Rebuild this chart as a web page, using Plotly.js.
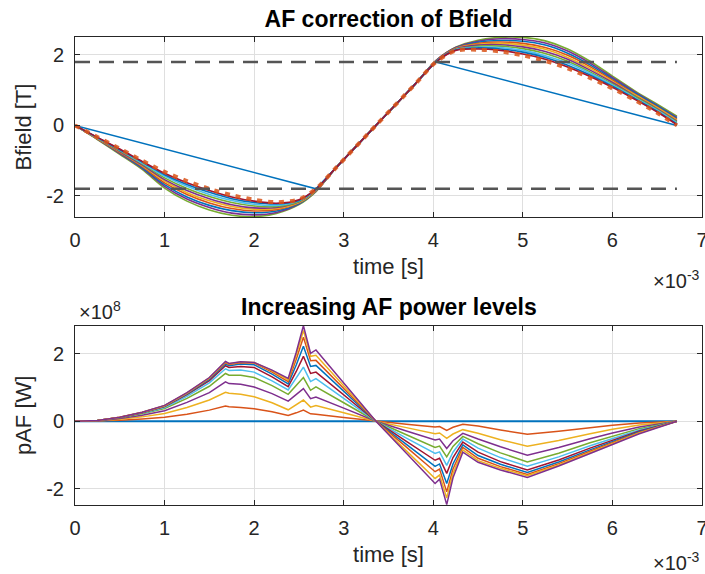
<!DOCTYPE html>
<html>
<head>
<meta charset="utf-8">
<script src="https://cdn.plot.ly/plotly-3.0.1.min.js"></script>
<style>
html, body { margin: 0; padding: 0; background: #ffffff; }
#chart { width: 705px; height: 574px; }
</style>
</head>
<body>
<div id="chart"></div>
<script>
// ===== DATA =====
// time values are in units of 1e-3 s (axis shows "x10^-3")
const xTickVals = [0, 1, 2, 3, 4, 5, 6, 7];
const xTickText = ['0', '1', '2', '3', '4', '5', '6', '7'];
const yTickValsB = [-2, 0, 2];
const yTickTextB = ['-2', '0', '2'];
const yTickValsP = [-2, 0, 2];
const yTickTextP = ['-2', '0', '2'];

// ---- top panel: Bfield [T] ----
const tTarget = [0, 2.69, 4.03, 6.72];
const bTarget = [0, -1.8, 1.8, 0];
const tLimit = [0, 6.72];
const bLimitHigh = [1.8, 1.8];
const bLimitLow = [-1.8, -1.8];

const tB = [0, 0.25, 0.5, 0.75, 1.0, 1.25, 1.5, 1.75, 2.0, 2.25, 2.5, 2.69, 2.9, 3.36, 3.8, 4.03, 4.25, 4.5, 4.75, 5.0, 5.25, 5.5, 5.75, 6.0, 6.25, 6.5, 6.72];
const bLevel0  = [0, -0.33, -0.66, -1.00, -1.32, -1.58, -1.80, -1.98, -2.11, -2.18, -2.10, -1.80, -1.24, 0, 1.18, 1.80, 2.12, 2.15, 2.10, 1.99, 1.83, 1.62, 1.35, 1.05, 0.72, 0.36, 0.00];
const bLevel1  = [0, -0.34, -0.67, -1.02, -1.36, -1.63, -1.85, -2.03, -2.15, -2.21, -2.11, -1.81, -1.24, 0, 1.18, 1.80, 2.13, 2.17, 2.13, 2.03, 1.88, 1.66, 1.39, 1.08, 0.74, 0.38, 0.02];
const bLevel2  = [0, -0.34, -0.69, -1.04, -1.40, -1.68, -1.90, -2.08, -2.19, -2.23, -2.13, -1.81, -1.24, 0, 1.18, 1.81, 2.14, 2.20, 2.17, 2.08, 1.93, 1.71, 1.43, 1.11, 0.76, 0.40, 0.04];
const bLevel3  = [0, -0.35, -0.70, -1.07, -1.44, -1.73, -1.96, -2.13, -2.24, -2.27, -2.14, -1.82, -1.24, 0, 1.18, 1.81, 2.15, 2.22, 2.21, 2.13, 1.98, 1.77, 1.48, 1.15, 0.79, 0.43, 0.07];
const bLevel4  = [0, -0.36, -0.72, -1.09, -1.49, -1.79, -2.02, -2.19, -2.29, -2.30, -2.16, -1.83, -1.24, 0, 1.18, 1.81, 2.16, 2.25, 2.25, 2.18, 2.04, 1.82, 1.52, 1.18, 0.82, 0.45, 0.10];
const bLevel5  = [0, -0.36, -0.74, -1.12, -1.54, -1.85, -2.08, -2.25, -2.34, -2.33, -2.17, -1.84, -1.24, 0, 1.18, 1.82, 2.17, 2.28, 2.29, 2.23, 2.10, 1.88, 1.57, 1.22, 0.84, 0.47, 0.12];
const bLevel6  = [0, -0.37, -0.75, -1.14, -1.58, -1.91, -2.14, -2.30, -2.38, -2.36, -2.19, -1.85, -1.24, 0, 1.18, 1.82, 2.18, 2.30, 2.33, 2.28, 2.16, 1.93, 1.62, 1.25, 0.87, 0.50, 0.15];
const bLevel7  = [0, -0.38, -0.77, -1.17, -1.63, -1.96, -2.20, -2.36, -2.43, -2.39, -2.20, -1.85, -1.24, 0, 1.18, 1.83, 2.19, 2.33, 2.37, 2.33, 2.21, 1.99, 1.67, 1.29, 0.89, 0.52, 0.17];
const bLevel8  = [0, -0.38, -0.78, -1.20, -1.68, -2.03, -2.27, -2.42, -2.48, -2.43, -2.22, -1.86, -1.24, 0, 1.18, 1.83, 2.20, 2.36, 2.41, 2.39, 2.28, 2.05, 1.72, 1.32, 0.92, 0.55, 0.20];
const bLevel9  = [0, -0.39, -0.80, -1.22, -1.73, -2.09, -2.33, -2.49, -2.54, -2.47, -2.23, -1.87, -1.24, 0, 1.18, 1.84, 2.21, 2.39, 2.46, 2.44, 2.34, 2.11, 1.77, 1.36, 0.95, 0.57, 0.23];
const bLevel10 = [0, -0.40, -0.82, -1.25, -1.78, -2.15, -2.40, -2.55, -2.59, -2.50, -2.25, -1.88, -1.24, 0, 1.18, 1.84, 2.22, 2.42, 2.50, 2.50, 2.40, 2.17, 1.82, 1.40, 0.98, 0.60, 0.26];

// ---- bottom panel: pAF [W] in units of 1e8 W ----
const tZero = [0, 6.72];
const pZero = [0, 0];
const tP = [0, 0.25, 0.5, 0.75, 1.0, 1.25, 1.5, 1.68, 1.72, 1.85, 2.0, 2.2, 2.38, 2.47, 2.55, 2.63, 2.69, 3.0, 3.36, 3.7, 4.02, 4.07, 4.15, 4.22, 4.33, 4.5, 4.75, 5.05, 5.4, 5.75, 6.0, 6.3, 6.72];
const pLevel1  = [0, 0.005, 0.03, 0.07, 0.12, 0.21, 0.33, 0.45, 0.43, 0.41, 0.37, 0.28, 0.17, 0.25, 0.33, 0.22, 0.21, 0.11, 0, -0.09, -0.17, -0.16, -0.27, -0.18, -0.09, -0.14, -0.26, -0.39, -0.30, -0.19, -0.12, -0.05, 0];
const pLevel2  = [0, 0.01, 0.06, 0.13, 0.23, 0.41, 0.63, 0.86, 0.83, 0.80, 0.73, 0.55, 0.34, 0.48, 0.63, 0.42, 0.47, 0.25, 0, -0.19, -0.37, -0.35, -0.51, -0.38, -0.25, -0.36, -0.55, -0.74, -0.57, -0.37, -0.24, -0.11, 0];
const pLevel3  = [0, 0.01, 0.08, 0.18, 0.31, 0.56, 0.85, 1.17, 1.12, 1.10, 1.02, 0.82, 0.60, 0.80, 0.97, 0.67, 0.72, 0.39, 0, -0.29, -0.56, -0.53, -0.81, -0.58, -0.36, -0.53, -0.76, -1.01, -0.78, -0.52, -0.35, -0.17, 0];
const pLevel4  = [0, 0.02, 0.10, 0.22, 0.38, 0.68, 1.04, 1.42, 1.37, 1.37, 1.30, 1.06, 0.80, 1.05, 1.30, 0.92, 1.02, 0.55, 0, -0.40, -0.78, -0.74, -1.06, -0.75, -0.45, -0.67, -0.94, -1.21, -0.95, -0.64, -0.44, -0.22, 0];
const pLevel5  = [0, 0.02, 0.11, 0.24, 0.41, 0.74, 1.14, 1.56, 1.51, 1.52, 1.46, 1.20, 0.93, 1.27, 1.61, 1.18, 1.27, 0.68, 0, -0.50, -0.96, -0.91, -1.31, -0.92, -0.53, -0.80, -1.08, -1.34, -1.06, -0.73, -0.51, -0.26, 0];
const pLevel6  = [0, 0.02, 0.11, 0.25, 0.44, 0.79, 1.21, 1.65, 1.60, 1.63, 1.60, 1.32, 1.03, 1.48, 1.93, 1.42, 1.46, 0.78, 0, -0.60, -1.16, -1.10, -1.55, -1.08, -0.62, -0.92, -1.20, -1.45, -1.15, -0.80, -0.56, -0.29, 0];
const pLevel7  = [0, 0.02, 0.11, 0.26, 0.45, 0.81, 1.24, 1.70, 1.65, 1.70, 1.68, 1.40, 1.11, 1.67, 2.23, 1.63, 1.66, 0.89, 0, -0.69, -1.34, -1.27, -1.85, -1.27, -0.70, -1.02, -1.28, -1.52, -1.21, -0.85, -0.60, -0.31, 0];
const pLevel8  = [0, 0.02, 0.12, 0.26, 0.46, 0.83, 1.27, 1.74, 1.69, 1.74, 1.73, 1.46, 1.18, 1.84, 2.50, 1.80, 1.81, 0.97, 0, -0.77, -1.50, -1.42, -2.10, -1.42, -0.78, -1.10, -1.35, -1.58, -1.26, -0.89, -0.63, -0.33, 0];
const pLevel9  = [0, 0.02, 0.12, 0.27, 0.46, 0.84, 1.29, 1.76, 1.71, 1.76, 1.75, 1.50, 1.23, 1.96, 2.70, 1.93, 1.96, 1.05, 0, -0.88, -1.70, -1.60, -2.28, -1.55, -0.85, -1.17, -1.40, -1.62, -1.30, -0.93, -0.66, -0.35, 0];
const pLevel10 = [0, 0.02, 0.12, 0.27, 0.47, 0.85, 1.30, 1.78, 1.72, 1.77, 1.75, 1.52, 1.27, 2.05, 2.84, 2.02, 2.12, 1.13, 0, -0.95, -1.85, -1.72, -2.48, -1.68, -0.92, -1.22, -1.45, -1.67, -1.33, -0.96, -0.69, -0.37, 0];

// ===== STYLE =====
const C = {blue:'#0072BD', orange:'#D95319', yellow:'#EDB120', purple:'#7E2F8E', green:'#77AC30', cyan:'#4DBEEE', red:'#A2142F'};
const FONT = 'Liberation Sans, Arial, Helvetica, sans-serif';
const INK = '#262626';

const bFamily = [bLevel0, bLevel1, bLevel2, bLevel3, bLevel4, bLevel5, bLevel6, bLevel7, bLevel8, bLevel9, bLevel10];
const bColors = [C.orange, C.red, C.blue, C.cyan, C.green, C.purple, C.yellow, C.orange, C.blue, C.purple, C.green];
const pFamily = [pLevel1, pLevel2, pLevel3, pLevel4, pLevel5, pLevel6, pLevel7, pLevel8, pLevel9, pLevel10];
const pColors = [C.orange, C.yellow, C.purple, C.green, C.cyan, C.red, C.blue, C.orange, C.yellow, C.purple];

const traces = [];
// top: target line
traces.push({x: tTarget, y: bTarget, xaxis:'x', yaxis:'y', mode:'lines', line:{color:C.blue, width:1.5}});
// top: family, outermost drawn first
for (let i = bFamily.length - 1; i >= 0; i--) {
  const dotted = (i === 0);
  traces.push({
    x: tB, y: bFamily[i], xaxis:'x', yaxis:'y', mode:'lines',
    line: dotted ? {color:'rgba(217,83,25,0.85)', width:4, dash:'5px,6px', shape:'spline', smoothing:0.8}
                 : {color:bColors[i], width:1.6, shape:'spline', smoothing:0.8}
  });
}
// top: limits
traces.push({x: tLimit, y: bLimitHigh, xaxis:'x', yaxis:'y', mode:'lines', line:{color:'#555555', width:2.5, dash:'15px,9px'}});
traces.push({x: tLimit, y: bLimitLow, xaxis:'x', yaxis:'y', mode:'lines', line:{color:'#555555', width:2.5, dash:'15px,9px'}});

// bottom
traces.push({x: tZero, y: pZero, xaxis:'x2', yaxis:'y2', mode:'lines', line:{color:C.blue, width:2.2}});
for (let i = 0; i < pFamily.length; i++) {
  traces.push({x: tP, y: pFamily[i], xaxis:'x2', yaxis:'y2', mode:'lines', line:{color:pColors[i], width:1.5}});
}

function xAxis(anchor) {
  return {
    anchor: anchor, domain: [0, 1], range: [0, 7],
    tickmode: 'array', tickvals: xTickVals, ticktext: xTickText,
    ticks: 'inside', ticklen: 5, tickcolor: INK, tickwidth: 1,
    showline: true, linecolor: INK, linewidth: 1, mirror: 'ticks',
    showgrid: true, gridcolor: '#dfdfdf', gridwidth: 1, zeroline: false,
    tickfont: {family: FONT, size: 20, color: INK},
    ticklabelstandoff: 5, ticklabeloverflow: 'allow',
    title: {text: 'time [s]', font: {family: FONT, size: 22, color: INK}, standoff: 8}
  };
}
function yAxis(anchor, domain, range, vals, text, label) {
  return {
    anchor: anchor, domain: domain, range: range,
    tickmode: 'array', tickvals: vals, ticktext: text,
    ticks: 'inside', ticklen: 5, tickcolor: INK, tickwidth: 1,
    showline: true, linecolor: INK, linewidth: 1, mirror: 'ticks',
    showgrid: true, gridcolor: '#dfdfdf', gridwidth: 1, zeroline: false,
    tickfont: {family: FONT, size: 20, color: INK},
    ticklabelstandoff: 6,
    title: {text: label, font: {family: FONT, size: 22, color: INK}, standoff: 8}
  };
}

const layout = {
  width: 705, height: 574,
  margin: {l: 75, r: 3, t: 37, b: 69},
  paper_bgcolor: '#ffffff', plot_bgcolor: '#ffffff',
  showlegend: false,
  title: {text: '<b>AF correction of Bfield</b>', font: {family: FONT, size: 23, color: '#000000'},
          xref: 'paper', x: 0.5, xanchor: 'center', yref: 'container', y: 1 - 19/574, yanchor: 'middle'},
  xaxis: xAxis('y'),
  yaxis: yAxis('x', [0.6154, 1], [-2.6, 2.51], yTickValsB, yTickTextB, 'Bfield [T]'),
  xaxis2: xAxis('y2'),
  yaxis2: yAxis('x2', [0, 0.3831], [-2.49, 2.84], yTickValsP, yTickTextP, 'pAF [W]'),
  annotations: [
    {text: '<b>Increasing AF power levels</b>', xref: 'paper', yref: 'paper', x: 0.5, y: (505 - 307) / 468,
     xanchor: 'center', yanchor: 'middle', showarrow: false, font: {family: FONT, size: 23, color: '#000000'}},
    {text: '×10<sup>-3</sup>', xref: 'paper', yref: 'paper', x: 1, y: (505 - 279) / 468,
     xanchor: 'right', yanchor: 'middle', showarrow: false, font: {family: FONT, size: 20, color: INK}},
    {text: '×10<sup>-3</sup>', xref: 'paper', yref: 'paper', x: 1, y: (505 - 561) / 468,
     xanchor: 'right', yanchor: 'middle', showarrow: false, font: {family: FONT, size: 20, color: INK}},
    {text: '×10<sup>8</sup>', xref: 'paper', yref: 'paper', x: 2 / 627, y: (505 - 311) / 468,
     xanchor: 'left', yanchor: 'middle', showarrow: false, font: {family: FONT, size: 20, color: INK}}
  ]
};

Plotly.newPlot('chart', traces, layout, {staticPlot: true, displayModeBar: false});
</script>
</body>
</html>
